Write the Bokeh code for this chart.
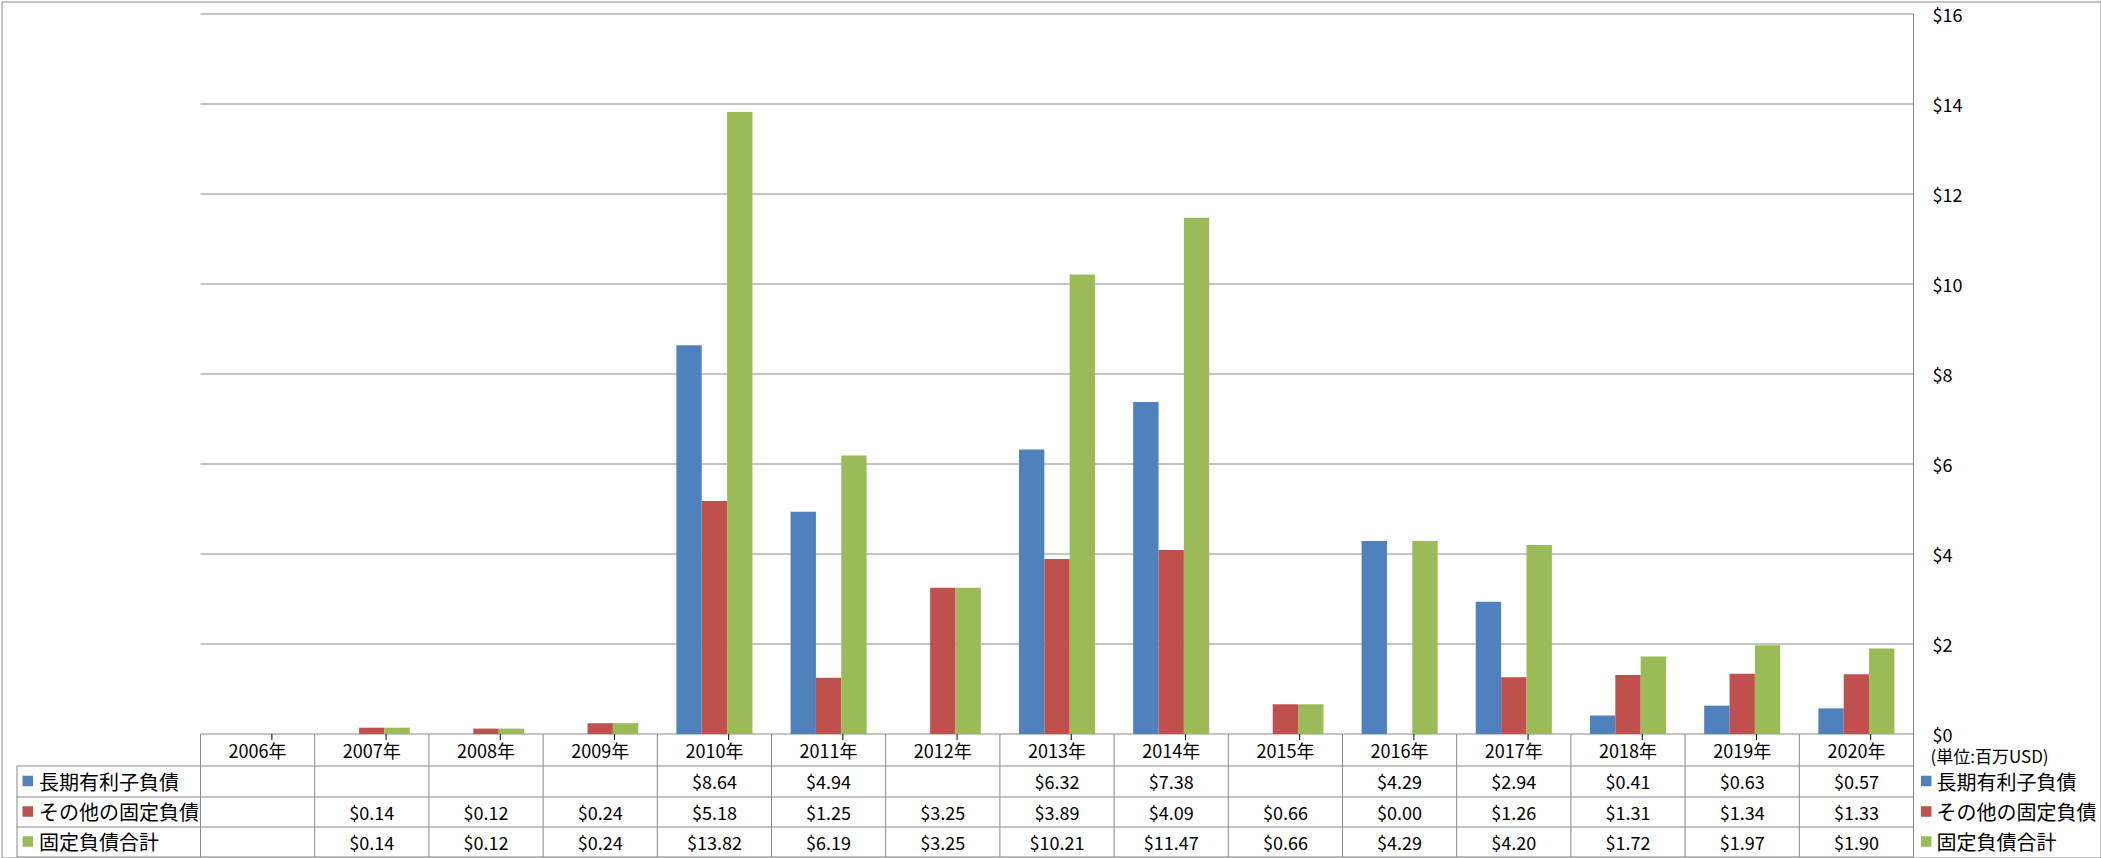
from bokeh.plotting import figure
from bokeh.models import Range1d
from bokeh.embed import file_html
from bokeh.resources import INLINE
from bokeh.core.properties import value

# ---------------- data ----------------
years = ["2006年", "2007年", "2008年", "2009年", "2010年", "2011年", "2012年", "2013年",
         "2014年", "2015年", "2016年", "2017年", "2018年", "2019年", "2020年"]
series_names = ["長期有利子負債", "その他の固定負債", "固定負債合計"]
long_term_debt = [None, None, None, None, 8.64, 4.94, None, 6.32, 7.38, None, 4.29, 2.94, 0.41, 0.63, 0.57]
other_liabilities = [None, 0.14, 0.12, 0.24, 5.18, 1.25, 3.25, 3.89, 4.09, 0.66, 0.00, 1.26, 1.31, 1.34, 1.33]
total_liabilities = [None, 0.14, 0.12, 0.24, 13.82, 6.19, 3.25, 10.21, 11.47, 0.66, 4.29, 4.20, 1.72, 1.97, 1.90]
y_ticks = [0, 2, 4, 6, 8, 10, 12, 14, 16]
unit_label = "(単位:百万USD)"
colors = ["#4F81BD", "#C0504D", "#9BBB59"]

# ---------------- layout constants (pixels) ----------------
W, H = 2101, 858
PL, PR = 200.0, 1913.0          # plot area left / right
PT, PB = 13.5, 733.5            # plot area top / bottom (value 16 / value 0)
n = len(years)
cw = (PR - PL) / n              # category width in px
ymax = y_ticks[-1]
ppu = (PB - PT) / ymax          # px per value unit
FONT = "Noto Sans CJK JP"
GRID = "#898989"
bar_w = 0.222


def cx(px):
    """window px -> category units"""
    return (px - PL) / cw


p = figure(width=W, height=H,
           x_range=Range1d(cx(0), cx(W)),
           y_range=Range1d(-(H - PB) / ppu, PB / ppu),
           x_axis_type=None, y_axis_type=None,
           output_backend="svg", toolbar_location=None,
           min_border=0, outline_line_color=None)
p.extra_y_ranges = {"px": Range1d(H, 0)}
p.grid.visible = False
p.background_fill_color = "white"
p.border_fill_color = "white"

# gridlines (value units)
p.segment(x0=[0] * len(y_ticks), x1=[n] * len(y_ticks), y0=y_ticks, y1=y_ticks,
          line_color=GRID, line_width=1)

# bars
series = [long_term_debt, other_liabilities, total_liabilities]
offsets = [-bar_w, 0.0, bar_w]
for vals, col, off in zip(series, colors, offsets):
    xs = [i + 0.5 + off for i, v in enumerate(vals) if v is not None]
    tops = [v for v in vals if v is not None]
    p.vbar(x=xs, top=tops, bottom=0, width=bar_w, fill_color=col, line_color=None)

# y-axis labels on the right
p.text(x=[cx(1932)] * len(y_ticks), y=y_ticks, text=[f"${t}" for t in y_ticks],
       text_align="left", text_baseline="middle", text_font=value(FONT),
       text_font_size="18px", text_color="black")

# ---------------- data table ----------------
HEAD_TOP, R1, R2, R3, TBOT = 733.5, 765.5, 796.5, 826.5, 856.5
head_c = 749.5
row_c = [780.5, 811.0, 841.0]

# right axis line continuing through the table
p.segment(x0=[n], x1=[n], y0=[PT], y1=[TBOT], y_range_name="px", line_color=GRID)
# category separators in the table
p.segment(x0=list(range(n)), x1=list(range(n)), y0=[HEAD_TOP] * n, y1=[TBOT] * n,
          y_range_name="px", line_color=GRID)
# left edge of label column
p.segment(x0=[cx(16.5)], x1=[cx(16.5)], y0=[R1], y1=[TBOT], y_range_name="px", line_color=GRID)
# row lines
p.segment(x0=[cx(16)] * 4, x1=[n] * 4, y0=[R1, R2, R3, TBOT], y1=[R1, R2, R3, TBOT],
          y_range_name="px", line_color=GRID)
# small tick marks below the category axis
p.segment(x0=[i + 0.625 for i in range(n)], x1=[i + 0.625 for i in range(n)],
          y0=[HEAD_TOP] * n, y1=[HEAD_TOP + 6] * n, y_range_name="px", line_color="black")

# outer chart border
p.segment(x0=[cx(1.5), cx(1.5), cx(2100.5), cx(1.5)],
          x1=[cx(1.5), cx(2100.5), cx(2100.5), cx(2100.5)],
          y0=[1.5, 1.5, 1.5, 857.5], y1=[857.5, 1.5, 857.5, 857.5],
          y_range_name="px", line_color=GRID)

# header years
p.text(x=[i + 0.5 for i in range(n)], y=[head_c] * n, text=years, y_range_name="px",
       text_align="center", text_baseline="middle", text_font=value(FONT),
       text_font_size="18px", text_color="black")

# values
for vals, yc in zip(series, row_c):
    xs = [i + 0.5 for i, v in enumerate(vals) if v is not None]
    txt = [f"${v:.2f}" for v in vals if v is not None]
    p.text(x=xs, y=[yc] * len(xs), text=txt, y_range_name="px",
           text_align="center", text_baseline="middle", text_font=value(FONT),
           text_font_size="18px", text_color="black")

# row labels with colour keys (left) and legend (right)
for key_px, txt_px in [(27.3, 38.5), (1925.7, 1936.0)]:
    p.scatter(x=[cx(key_px)] * 3, y=row_c, marker="square", size=10.5,
              fill_color=colors, line_color=None, y_range_name="px")
    p.text(x=[cx(txt_px)] * 3, y=row_c, text=series_names, y_range_name="px",
           text_align="left", text_baseline="middle", text_font=value(FONT),
           text_font_size="20px", text_color="black")

# unit label
p.text(x=[cx(1930)], y=[755], text=[unit_label], y_range_name="px",
       text_align="left", text_baseline="middle", text_font=value(FONT),
       text_font_size="17px", text_color="black")

open("out.html", "w").write(file_html(p, INLINE))
